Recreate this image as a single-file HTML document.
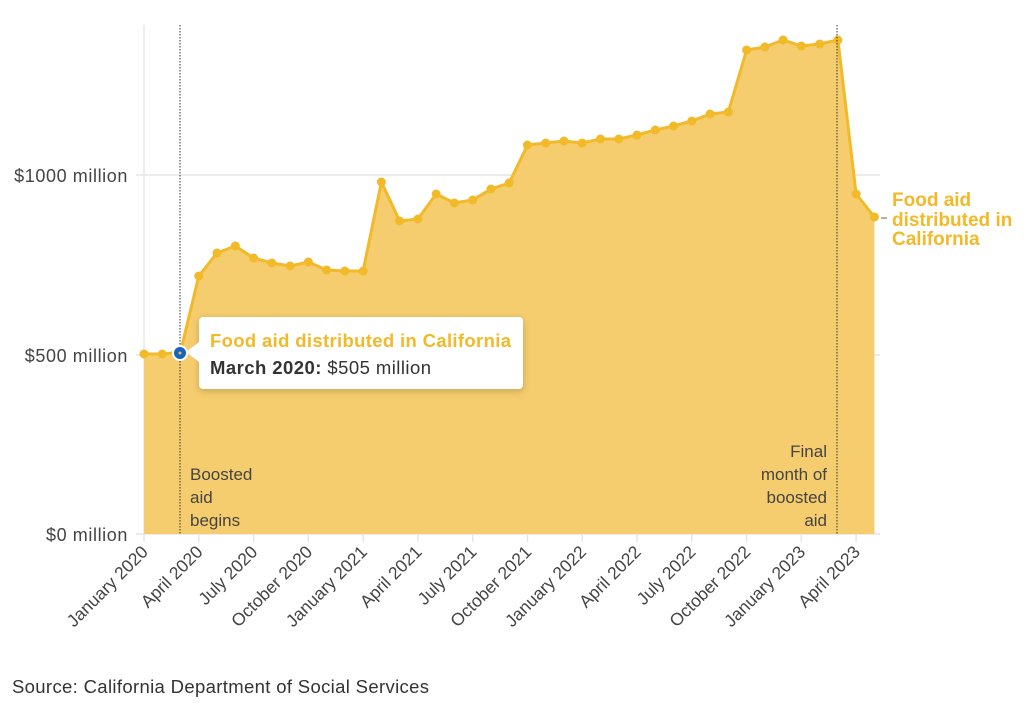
<!DOCTYPE html>
<html><head><meta charset="utf-8"><style>
html,body{margin:0;padding:0;background:#fff;}
svg{display:block;font-family:"Liberation Sans",sans-serif;}
</style></head><body>
<svg width="1024" height="703" viewBox="0 0 1024 703">
<line x1="144" y1="25" x2="144" y2="534" stroke="#e8e8e8" stroke-width="1.5"/>
<line x1="136" y1="175" x2="880" y2="175" stroke="#e6e6e6" stroke-width="1.5"/>
<line x1="136" y1="355" x2="880" y2="355" stroke="#e6e6e6" stroke-width="1.5"/>
<line x1="136" y1="534" x2="880" y2="534" stroke="#e6e6e6" stroke-width="1.5"/>
<g id="d"></g>
<g font-size="18" fill="#444" text-anchor="end" letter-spacing="0.6">
<text x="128" y="182">$1000 million</text>
<text x="128" y="362">$500 million</text>
<text x="128" y="541">$0 million</text>
</g>
<g id="ticks"></g>
<line x1="180" y1="25" x2="180" y2="534" stroke="#333" stroke-width="1" stroke-dasharray="1.5,1.5"/>
<line x1="837" y1="25" x2="837" y2="534" stroke="#333" stroke-width="1" stroke-dasharray="1.5,1.5"/>
<g font-size="17" fill="#444">
<text x="190" y="480">Boosted</text><text x="190" y="503">aid</text><text x="190" y="526">begins</text>
</g>
<g font-size="17" fill="#444" text-anchor="end">
<text x="827" y="457">Final</text><text x="827" y="480">month of</text><text x="827" y="503">boosted</text><text x="827" y="526">aid</text>
</g>
<line x1="881" y1="218" x2="887" y2="218" stroke="#999" stroke-width="1.5"/>
<g font-size="19" font-weight="bold" fill="#f2b928">
<text x="892" y="206">Food aid</text><text x="892" y="226">distributed in</text><text x="892" y="245">California</text>
</g>
<g>
<rect x="199" y="317" width="324" height="72" rx="4" fill="#fff" style="filter:drop-shadow(0 2px 4px rgba(0,0,0,0.2))"/>
<polygon points="199,342 186,352 199,362" fill="#fff"/>
<text x="210" y="347" font-size="18.5" font-weight="bold" fill="#f2b928" textLength="301">Food aid distributed in California</text>
<text x="210" y="374" font-size="18.5" fill="#333" textLength="221"><tspan font-weight="bold">March 2020:</tspan> $505 million</text>
</g>
<circle cx="180" cy="353" r="7" fill="#1565c0" stroke="#fff" stroke-width="2"/>
<circle cx="180" cy="353" r="1.5" fill="#f2b928"/>
<text x="12" y="693" font-size="18.5" fill="#333" textLength="417">Source: California Department of Social Services</text>
<script>
var ys=[354,354,352,276,253,246,258,263,266,262,270,271,271,182,221,219,194,203,200,189,183,145,143,141,143,139,139,135,130,126,121,114,112,50,47,40,46,44,40,194,217];
var pts=ys.map(function(y,i){return [144+18.26*i,y];});
var ns="http://www.w3.org/2000/svg",g=document.getElementById('d');
var line=pts.map(function(p){return p[0].toFixed(1)+','+p[1];}).join(' ');
var last=pts[pts.length-1][0].toFixed(1);
var a=document.createElementNS(ns,'polygon');a.setAttribute('points','144,534 '+line+' '+last+',534');a.setAttribute('fill','#f6cd6e');g.appendChild(a);
var l=document.createElementNS(ns,'polyline');l.setAttribute('points',line);l.setAttribute('fill','none');l.setAttribute('stroke','#f2b928');l.setAttribute('stroke-width','3');l.setAttribute('stroke-linejoin','round');g.appendChild(l);
pts.forEach(function(p,i){if(i==2)return;var c=document.createElementNS(ns,'circle');c.setAttribute('cx',p[0]);c.setAttribute('cy',p[1]);c.setAttribute('r','4.5');c.setAttribute('fill','#f2b928');g.appendChild(c);});
var t=document.getElementById('ticks');
var labs=['January 2020','April 2020','July 2020','October 2020','January 2021','April 2021','July 2021','October 2021','January 2022','April 2022','July 2022','October 2022','January 2023','April 2023'];
labs.forEach(function(s,i){var x=144+18.26*3*i;
var k=document.createElementNS(ns,'line');k.setAttribute('x1',x);k.setAttribute('x2',x);k.setAttribute('y1',534);k.setAttribute('y2',542);k.setAttribute('stroke','#e6e6e6');k.setAttribute('stroke-width','1.5');t.appendChild(k);
var tx=document.createElementNS(ns,'text');tx.setAttribute('x',x+5);tx.setAttribute('y',553);tx.setAttribute('font-size','17.5');tx.setAttribute('fill','#444');tx.setAttribute('text-anchor','end');tx.setAttribute('transform','rotate(-45 '+(x+5)+' 553)');tx.textContent=s;t.appendChild(tx);});
</script>
</svg>
</body></html>
